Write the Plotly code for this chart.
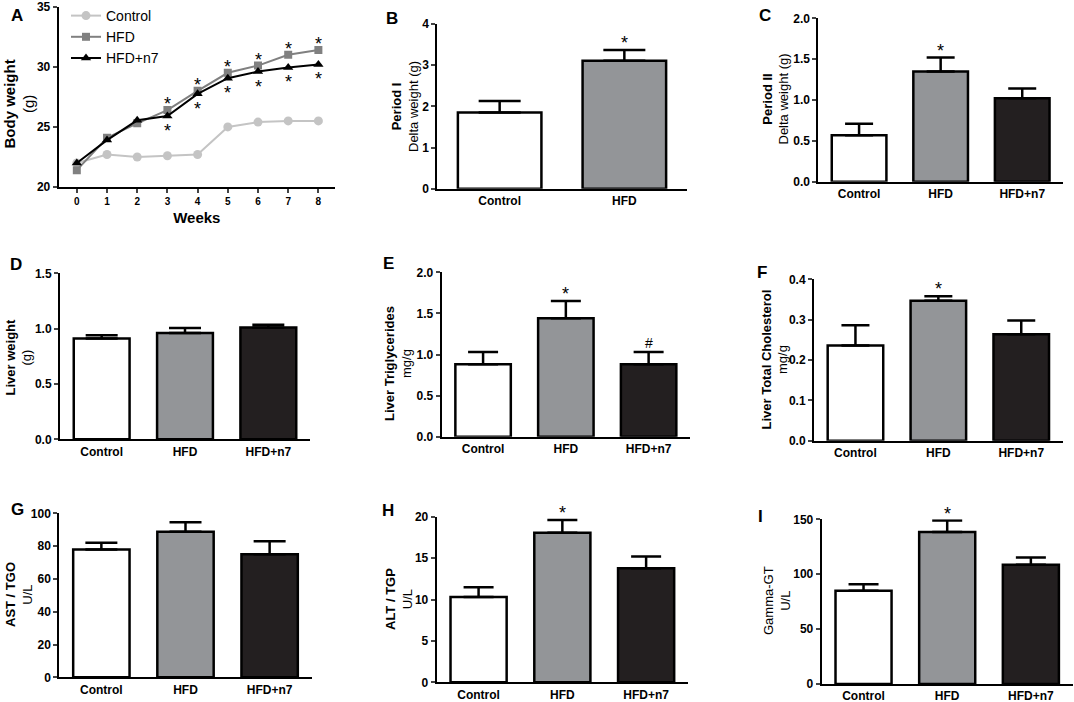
"""Body weight, liver lipids and serum enzymes: Control vs HFD vs HFD+n7."""

import plotly.graph_objects as go

# ---- data ----
weeks = [0, 1, 2, 3, 4, 5, 6, 7, 8]
bw_control = [22.0, 22.7, 22.5, 22.6, 22.7, 25.0, 25.4, 25.5, 25.5]
bw_hfd = [21.4, 24.1, 25.3, 26.4, 28.0, 29.5, 30.1, 31.0, 31.4]
bw_hfd_n7 = [22.0, 23.9, 25.55, 25.9, 27.75, 29.05, 29.6, 29.95, 30.2]
sig_weeks = [3, 4, 5, 6, 7, 8]

groups2 = ["Control", "HFD"]
groups3 = ["Control", "HFD", "HFD+n7"]

period1_mean = [1.85, 3.11]
period1_sem = [0.28, 0.26]
period1_marks = ["", "*"]

period2_mean = [0.57, 1.35, 1.02]
period2_sem = [0.14, 0.17, 0.12]
period2_marks = ["", "*", ""]

liver_wt_mean = [0.91, 0.96, 1.01]
liver_wt_sem = [0.03, 0.045, 0.025]
liver_wt_marks = ["", "", ""]

tg_mean = [0.88, 1.44, 0.88]
tg_sem = [0.15, 0.21, 0.15]
tg_marks = ["", "*", "#"]

chol_mean = [0.236, 0.347, 0.264]
chol_sem = [0.05, 0.011, 0.034]
chol_marks = ["", "*", ""]

ast_mean = [78.0, 88.8, 75.0]
ast_sem = [4.1, 5.7, 7.9]
ast_marks = ["", "", ""]

alt_mean = [10.3, 18.07, 13.76]
alt_sem = [1.17, 1.53, 1.44]
alt_marks = ["", "*", ""]

ggt_mean = [85.0, 138.5, 108.7]
ggt_sem = [5.8, 10.3, 6.4]
ggt_marks = ["", "*", ""]

# ---- styling ----
W, H = 1074, 702
FONT = "Liberation Sans, Arial, sans-serif"
BAR_COLORS = ["white", "#939598", "#231f20"]


def px_x(a, b):
    return [a / W, b / W]


def px_y(top, bottom):
    return [1 - bottom / H, 1 - top / H]


def ax_id(i):
    return "" if i == 1 else str(i)


def side_title(text, cx, cy, size=13):
    """Rotated two-line y-axis title placed at a paper position (px)."""
    return dict(x=cx / W, y=1 - cy / H, xref="paper", yref="paper", text=text,
                textangle=-90, showarrow=False, xanchor="center",
                yanchor="middle", align="center",
                font=dict(size=size, color="black"))


fig = go.Figure()

# ---- panel A: body weight over time ----
fig.add_trace(go.Scatter(
    x=weeks, y=bw_control, mode="lines+markers", name="Control",
    line=dict(color="#c4c4c4", width=2),
    marker=dict(symbol="circle", size=9, color="#c4c4c4"),
    xaxis="x", yaxis="y",
))
fig.add_trace(go.Scatter(
    x=weeks, y=bw_hfd, mode="lines+markers", name="HFD",
    line=dict(color="#808080", width=2),
    marker=dict(symbol="square", size=8, color="#808080"),
    xaxis="x", yaxis="y",
))
fig.add_trace(go.Scatter(
    x=weeks, y=bw_hfd_n7, mode="lines+markers", name="HFD+n7",
    line=dict(color="black", width=2),
    marker=dict(symbol="triangle-up", size=9, color="black"),
    xaxis="x", yaxis="y",
))

annotations = [side_title("<b>Body weight</b><br>(g)", 18.5, 104, size=15)]
for w in sig_weeks:
    annotations.append(dict(x=w, y=bw_hfd[w], xref="x", yref="y", text="*",
                            showarrow=False, yanchor="middle", yshift=6,
                            font=dict(size=18, color="black")))
    annotations.append(dict(x=w, y=bw_hfd_n7[w], xref="x", yref="y", text="*",
                            showarrow=False, yanchor="middle", yshift=-15,
                            font=dict(size=18, color="black")))

axis_common = dict(showline=True, linewidth=2, linecolor="black", showgrid=False,
                   zeroline=False, mirror=False, automargin=False,
                   ticklabeloverflow="allow")

layout = dict(
    xaxis=dict(domain=px_x(58.7, 335), anchor="y", range=[-0.6, 8.55],
               tickvals=weeks, ticks="outside", ticklen=4, tickwidth=2,
               tickfont=dict(size=10, weight="bold"),
               title=dict(text="<b>Weeks</b>", font=dict(size=15), standoff=6),
               **axis_common),
    yaxis=dict(domain=px_y(6.7, 187), anchor="x", range=[20, 35], dtick=5,
               ticks="outside", ticklen=4, tickwidth=2,
               tickfont=dict(size=12, weight="bold"), **axis_common),
)

# ---- bar panels B..I ----
panels = [
    # idx, cats, mean, sem, marks, y range, dtick, fmt, ytitle, title centre px,
    # xdom px, ydom px, cap
    (2, groups2, period1_mean, period1_sem, period1_marks, [0, 4], 1, "d",
     "<b>Period I</b><br>Delta weight (g)", (405, 107),
     (437.3, 686.7), (24, 188.7), 21),
    (3, groups3, period2_mean, period2_sem, period2_marks, [0, 2], 0.5, ".1f",
     "<b>Period II</b><br>Delta weight (g)", (775.5, 99),
     (818.3, 1063), (18.3, 181.7), 14),
    (4, groups3, liver_wt_mean, liver_wt_sem, liver_wt_marks, [0, 1.5], 0.5, ".1f",
     "<b>Liver weight</b><br>(g)", (18.5, 357),
     (60, 310), (273.3, 439.3), 16),
    (5, groups3, tg_mean, tg_sem, tg_marks, [0, 2], 0.5, ".1f",
     "<b>Liver Triglycerides</b><br>mg/g", (397.5, 363.5),
     (441.7, 690), (272.3, 436.7), 15),
    (6, groups3, chol_mean, chol_sem, chol_marks, [0, 0.4], 0.1, ".1f",
     "<b>Liver Total Cholesterol</b><br>mg/g", (774.5, 360),
     (814, 1062.7), (279.3, 440.7), 14),
    (7, groups3, ast_mean, ast_sem, ast_marks, [0, 100], 20, "d",
     "<b>AST / TGO</b><br>U/L", (19, 595),
     (59.3, 311.7), (513.3, 677.3), 16),
    (8, groups3, alt_mean, alt_sem, alt_marks, [0, 20], 5, "d",
     "<b>ALT / TGP</b><br>U/L", (398.5, 599.5),
     (436.7, 688), (516.7, 682.3), 15),
    (9, groups3, ggt_mean, ggt_sem, ggt_marks, [0, 150], 50, "d",
     "Gamma-GT<br>U/L", (777, 601),
     (821.7, 1072.7), (519.3, 684), 15),
]

for idx, cats, mean, sem, marks, yr, dt, fmt, ytitle, tpos, xd, yd, cap in panels:
    xa, ya = "x" + ax_id(idx), "y" + ax_id(idx)
    fig.add_trace(go.Bar(
        x=cats, y=mean, width=0.67, showlegend=False,
        marker=dict(color=BAR_COLORS[:len(cats)],
                    line=dict(color="black", width=2.5)),
        error_y=dict(type="data", array=sem, arrayminus=[0] * len(cats),
                     symmetric=False, color="black", thickness=2.5, width=cap),
        xaxis=xa, yaxis=ya,
    ))
    for c, m, s, mk in zip(cats, mean, sem, marks):
        if mk:
            annotations.append(dict(x=c, y=m + s, xref=xa, yref=ya, text=mk,
                                    showarrow=False, yanchor="middle",
                                    yshift=7 if mk == "*" else 9,
                                    font=dict(size=18 if mk == "*" else 14,
                                              color="black")))
    annotations.append(side_title(ytitle, *tpos))
    layout["xaxis" + ax_id(idx)] = dict(
        domain=px_x(*xd), anchor=ya, type="category",
        range=[-0.5, len(cats) - 0.5], ticks="",
        tickfont=dict(size=12, weight="bold"), **axis_common)
    layout["yaxis" + ax_id(idx)] = dict(
        domain=px_y(*yd), anchor=xa, range=yr, dtick=dt, tickformat=fmt,
        ticks="outside", ticklen=4, tickwidth=2,
        tickfont=dict(size=12, weight="bold"), **axis_common)

# ---- panel letters ----
letters = [("A", 17, 15), ("B", 392, 18), ("C", 765, 16),
           ("D", 16, 265), ("E", 388, 263), ("F", 762, 272),
           ("G", 17, 509), ("H", 388, 510), ("I", 760, 516)]
for txt, lx, ly in letters:
    annotations.append(dict(x=lx / W, y=1 - ly / H, xref="paper", yref="paper",
                            text="<b>%s</b>" % txt, showarrow=False,
                            xanchor="center", yanchor="middle",
                            font=dict(size=17, color="black")))

fig.update_layout(
    **layout,
    template="none",
    annotations=annotations,
    width=W, height=H,
    margin=dict(l=0, r=0, t=0, b=0, pad=0),
    paper_bgcolor="white", plot_bgcolor="white",
    font=dict(family=FONT, color="black"),
    showlegend=True,
    legend=dict(x=66 / W, y=1.0, xanchor="left", yanchor="top",
                font=dict(size=14), itemwidth=30, bgcolor="rgba(0,0,0,0)",
                tracegroupgap=0),
)

# the page body has a default 8px margin; drop it so the figure sits at (0, 0)
fig.write_html("out.html", config={"displayModeBar": False},
               post_script="document.body.style.margin = '0';")
